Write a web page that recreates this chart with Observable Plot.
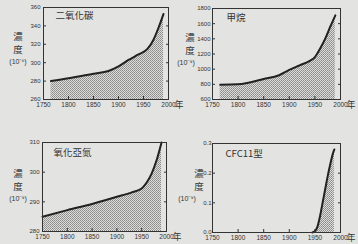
<!DOCTYPE html>
<html><head><meta charset="utf-8">
<script src="https://cdn.jsdelivr.net/npm/d3@7"></script>
<script src="https://cdn.jsdelivr.net/npm/@observablehq/plot@0.6"></script>
<style>
html,body{margin:0;padding:0;background:#e3e3e1;}
#wrap{position:relative;width:358px;height:244px;overflow:hidden;}
.p{position:absolute;}
.lab{position:absolute;font-family:"Noto Sans CJK TC",sans-serif;color:#333;text-align:center;line-height:1;white-space:nowrap;}
</style></head><body><div id="wrap"></div>
<script>
// Data
const co2Years = [1765, 1800, 1850, 1880, 1900, 1920, 1940, 1958, 1970, 1980, 1990];
const co2Values = [280, 283, 288, 291, 296, 303, 309, 315, 325, 338, 353];
const ch4Years = [1765, 1800, 1850, 1880, 1900, 1920, 1940, 1950, 1960, 1970, 1980, 1990];
const ch4Values = [795, 800, 870, 920, 990, 1050, 1110, 1160, 1270, 1400, 1560, 1710];
const n2oYears = [1750, 1800, 1850, 1900, 1930, 1950, 1960, 1970, 1980, 1990];
const n2oValues = [285, 287.2, 289.3, 291.7, 293.2, 294.5, 296.5, 299.5, 304, 310];
const cfcYears = [1945, 1950, 1955, 1960, 1965, 1970, 1975, 1980, 1985, 1988];
const cfcValues = [0, 0.004, 0.02, 0.055, 0.1, 0.145, 0.19, 0.23, 0.265, 0.28];
const yearTicks = [1750, 1800, 1850, 1900, 1950, 2000];
const titles = ["二氧化碳", "甲烷", "氧化亞氮", "CFC11型"];
const units = ["(10⁻⁶)", "(10⁻⁹)", "(10⁻⁹)", "(10⁻⁹)"];
const co2Ticks = [260, 280, 300, 320, 340, 360];
const ch4Ticks = [600, 800, 1000, 1200, 1400, 1600, 1800];
const n2oTicks = [280, 290, 300, 310];
const cfcTicks = [0, 0.1, 0.2, 0.3];

const panels = [
  {years: co2Years, values: co2Values, yd: [260, 360], yt: co2Ticks, fmt: d => String(d), left: 0, top: 0, m: [7, 11, 23, 43], tx: 55, ty: 12, pad: 6},
  {years: ch4Years, values: ch4Values, yd: [600, 1800], yt: ch4Ticks, fmt: d => String(d), left: 179, top: 0, m: [8, 18, 23, 33], tx: 47, ty: 14, pad: 5},
  {years: n2oYears, values: n2oValues, yd: [280, 310], yt: n2oTicks, fmt: d => String(d), left: 0, top: 122, m: [20, 13, 13, 42], tx: 53, ty: 27, pad: 6},
  {years: cfcYears, values: cfcValues, yd: [0, 0.3], yt: cfcTicks, fmt: d => d3.format(".1f")(d), left: 179, top: 122, m: [21, 18, 12, 33], tx: 46, ty: 28, pad: 4}
];

const wrap = document.getElementById("wrap");
panels.forEach((p, i) => {
  const data = p.years.map((y, j) => ({year: y, v: p.values[j]}));
  const pid = "dots" + i;
  const defs = () => {
    const svgns = "http://www.w3.org/2000/svg";
    const d = document.createElementNS(svgns, "defs");
    d.innerHTML = `<pattern id="${pid}" width="2" height="2" patternUnits="userSpaceOnUse"><rect width="2" height="2" fill="#dcdcda"/><rect width="1" height="1" fill="#8a8a8a"/><rect x="1" y="1" width="1" height="1" fill="#9a9a9a"/></pattern>`;
    return d;
  };
  const [mt, mr, mb, ml] = p.m;
  const chart = Plot.plot({
    width: 179, height: 122,
    marginTop: mt, marginRight: mr, marginBottom: mb, marginLeft: ml,
    style: {background: "transparent", fontFamily: "Liberation Sans, Arial, sans-serif", fontSize: "6.5px", color: "#333"},
    x: {domain: [1750, 2000]},
    y: {domain: p.yd},
    marks: [
      defs,
      Plot.areaY(data, {x: "year", y1: p.yd[0], y2: "v", fill: `url(#${pid})`, curve: "monotone-x"}),
      Plot.line(data, {x: "year", y: "v", stroke: "#222", strokeWidth: 2, curve: "monotone-x"}),
      Plot.frame({stroke: "#333", strokeWidth: 1}),
      Plot.axisX({ticks: yearTicks, tickSize: -3, tickPadding: 6, tickFormat: d => String(d), label: null, stroke: "#333", fontSize: 6.5}),
      Plot.axisY({ticks: p.yt, tickSize: -3, tickPadding: p.pad, tickFormat: p.fmt, label: null, stroke: "#333", fontSize: 6}),
      Plot.axisY({ticks: p.yt, anchor: "right", tickSize: -3, tickFormat: () => "", text: null, label: null, stroke: "#333"}),
      Plot.text([titles[i]], {frameAnchor: "top-left", dx: p.tx - ml, dy: p.ty - mt, text: d => d, fontSize: 9.5, fontFamily: "Noto Sans CJK TC", fill: "#333"}),
      Plot.text(["年"], {frameAnchor: "bottom-right", dx: 15, dy: 8, text: d => d, fontSize: 9, fontFamily: "Noto Sans CJK TC", fill: "#333"})
    ]
  });
  chart.classList.add("p");
  chart.style.left = p.left + "px";
  chart.style.top = p.top + "px";
  chart.style.overflow = "visible";
  wrap.appendChild(chart);
});

// y labels
const yl = [
  {x: 18, ux: 18, y: 32, u: 0},
  {x: 190, ux: 186, y: 33, u: 1},
  {x: 18, ux: 18, y: 169, u: 2},
  {x: 199, ux: 187, y: 169, u: 3}
];
yl.forEach(l => {
  const d = document.createElement("div");
  d.className = "lab";
  d.style.left = (l.x - 15) + "px";
  d.style.top = l.y + "px";
  d.style.width = "30px";
  d.innerHTML = `<div style="font-size:9.5px;height:13px">濃</div><div style="font-size:9.5px;height:13px">度</div><div style="font-size:7px;font-family:'Liberation Sans',sans-serif;position:relative;left:${l.ux - l.x}px">${units[l.u]}</div>`;
  wrap.appendChild(d);
});
</script></body></html>
